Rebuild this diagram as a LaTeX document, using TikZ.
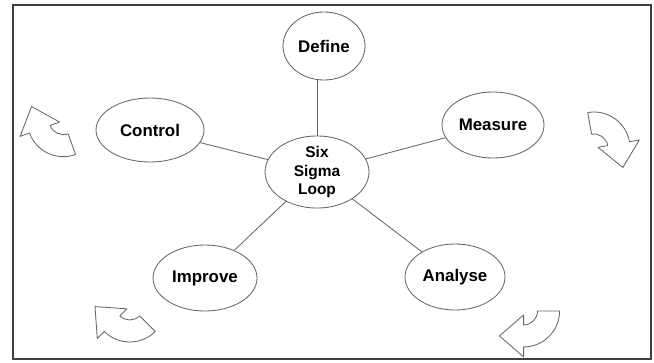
\documentclass[tikz,border=0pt]{standalone}
\usepackage{fontspec}
\setsansfont{Liberation Sans}
\usetikzlibrary{shapes.geometric}
\tikzset{
    phase/.style={ellipse, draw=black!60, line width=0.6pt, inner sep=0pt,
      font=\sffamily\bfseries\fontsize{12}{14}\selectfont},
    spoke/.style={draw=black!60, line width=0.6pt},
    % curved block arrow, origin at the middle of the shape
    cyclearrow/.pic={
      \draw[black!60, line width=0.6pt, line join=round, shift={(-0.5,-0.2)}]
        (100:0.9) arc[start angle=100, end angle=10, radius=0.9]
        -- (10:1.15) -- (-34:0.87) -- (10:0.1) -- (10:0.35)
        arc[start angle=10, end angle=100, radius=0.35] -- cycle;
    },
  }
\begin{document}
\begin{tikzpicture}
    \useasboundingbox (0,0) rectangle (16.35,9.05);
    \draw[black!75, line width=1.3pt] (0.325,0.075) rectangle (16.275,8.925);

    %phases
    \node[phase, minimum width=2.6cm, minimum height=1.8cm, align=center,
          font=\sffamily\bfseries\fontsize{11}{13}\selectfont]
          (loop) at (7.925,4.75) {Six\\Sigma\\Loop};
    \node[phase, minimum width=2.05cm, minimum height=1.7cm] (define) at (8.1,7.9) {Define};
    \node[phase, minimum width=2.55cm, minimum height=1.65cm] (measure) at (12.325,5.925) {Measure};
    \node[phase, minimum width=2.5cm, minimum height=1.65cm] (analyse) at (11.375,2.125) {Analyse};
    \node[phase, minimum width=2.6cm, minimum height=1.65cm] (improve) at (5.125,2.1) {Improve};
    \node[phase, minimum width=2.7cm, minimum height=1.6cm] (control) at (3.75,5.8) {Control};

    %spokes
    \draw[spoke] (loop.north) -- (loop.north |- define.south);
    \foreach \p in {measure,analyse,improve,control}
      \draw[spoke] (loop) -- (\p);

    %arrows round the loop
    \pic[rotate=0] at (15.35,5.55) {cyclearrow};
    \pic[rotate=-100] at (13.2,0.75) {cyclearrow};
    \pic[rotate=215] at (2.95,0.95) {cyclearrow};
    \pic[rotate=190] at (1.125,5.75) {cyclearrow};
\end{tikzpicture}
\end{document}
